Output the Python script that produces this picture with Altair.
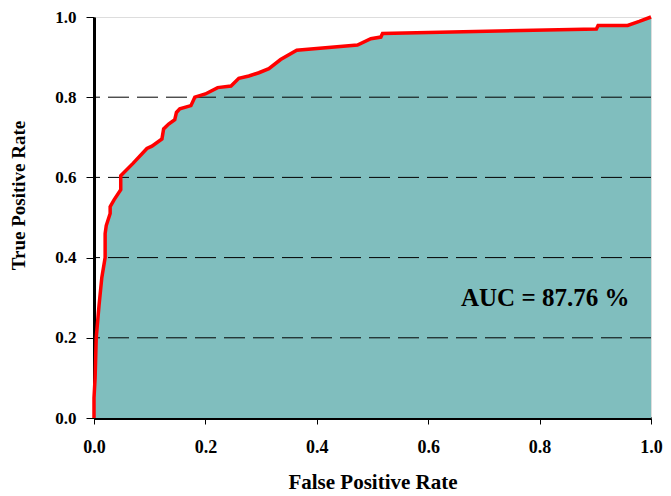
import altair as alt
import pandas as pd

fpr = [0.0, 0.0, 0.002, 0.004, 0.009, 0.014, 0.02, 0.02, 0.022, 0.029, 0.029, 0.036,
       0.048, 0.048, 0.07, 0.095, 0.104, 0.122, 0.125, 0.134, 0.145, 0.148, 0.154,
       0.174, 0.181, 0.2, 0.222, 0.246, 0.26, 0.278, 0.296, 0.314, 0.335, 0.364,
       0.473, 0.497, 0.515, 0.518, 0.902, 0.905, 0.958, 0.979, 1.0]
tpr = [0.0, 0.05, 0.1, 0.2, 0.28, 0.35, 0.40, 0.46, 0.48, 0.51, 0.527, 0.544,
       0.569, 0.604, 0.635, 0.672, 0.678, 0.696, 0.721, 0.733, 0.744, 0.762, 0.771,
       0.779, 0.80, 0.808, 0.824, 0.828, 0.847, 0.853, 0.861, 0.871, 0.894, 0.917,
       0.93, 0.946, 0.95, 0.959, 0.970, 0.979, 0.979, 0.989, 1.0]
grid_levels = [0.2, 0.4, 0.6, 0.8]
auc_label = ["AUC = 87.76 %"]
auc_pos_x = [0.81]
auc_pos_y = [0.30]

roc = pd.DataFrame({"fpr": fpr, "tpr": tpr, "idx": list(range(len(fpr)))})
grid = pd.DataFrame({"y": grid_levels})
ann = pd.DataFrame({"x": auc_pos_x, "y": auc_pos_y, "t": auc_label})

FONT = "Liberation Serif"
xs = alt.Scale(domain=[0, 1], nice=False)
ys = alt.Scale(domain=[0, 1], nice=False)

x_axis = alt.Axis(values=[0, 0.2, 0.4, 0.6, 0.8, 1.0], format=".1f", grid=False,
                  tickSize=6, tickColor="black", labelPadding=14, labelFlush=False,
                  labelFont=FONT, labelFontSize=18, labelFontWeight="bold", labelColor="black",
                  title="False Positive Rate", titleFont=FONT, titleFontSize=21,
                  titleFontWeight="bold", titleColor="black", titleBaseline="alphabetic",
                  titleY=70, domainColor="black", domainWidth=3)
y_axis = alt.Axis(values=[0, 0.2, 0.4, 0.6, 0.8, 1.0], format=".1f", grid=False,
                  tickSize=8, tickColor="black", labelPadding=10, labelFlush=False,
                  labelFont=FONT, labelFontSize=17, labelFontWeight="bold", labelColor="black",
                  title="True Positive Rate", titleFont=FONT, titleFontSize=19,
                  titleFontWeight="bold", titleColor="black", titleBaseline="alphabetic",
                  titleX=-70, titleY=178, domainColor="black", domainWidth=3)

area = alt.Chart(roc).mark_area(color="#80BEBE", opacity=1).encode(
    x=alt.X("fpr:Q", scale=xs, axis=x_axis),
    y=alt.Y("tpr:Q", scale=ys, axis=y_axis),
    y2=alt.datum(0),
)

rules = alt.Chart(grid).mark_rule(color="black", strokeWidth=1, strokeDash=[21, 8]).encode(
    y=alt.Y("y:Q", scale=ys)
)

line = alt.Chart(roc).mark_line(color="#FF0000", strokeWidth=3.5).encode(
    x=alt.X("fpr:Q", scale=xs),
    y=alt.Y("tpr:Q", scale=ys),
    order=alt.Order("idx:Q"),
)

text = alt.Chart(ann).mark_text(font=FONT, fontSize=25, fontWeight="bold", color="black",
                                align="center", baseline="middle").encode(
    x=alt.X("x:Q", scale=xs),
    y=alt.Y("y:Q", scale=ys),
    text="t:N",
)

chart = alt.layer(area, rules, line, text).properties(
    width=557, height=401,
    autosize=alt.AutoSizeParams(type="none"),
    padding={"left": 86, "top": 9, "right": 12, "bottom": 78},
).configure_view(stroke="black", strokeWidth=3).configure(background="white")

chart.save("out.html", embed_options={"renderer": "svg", "actions": False})
